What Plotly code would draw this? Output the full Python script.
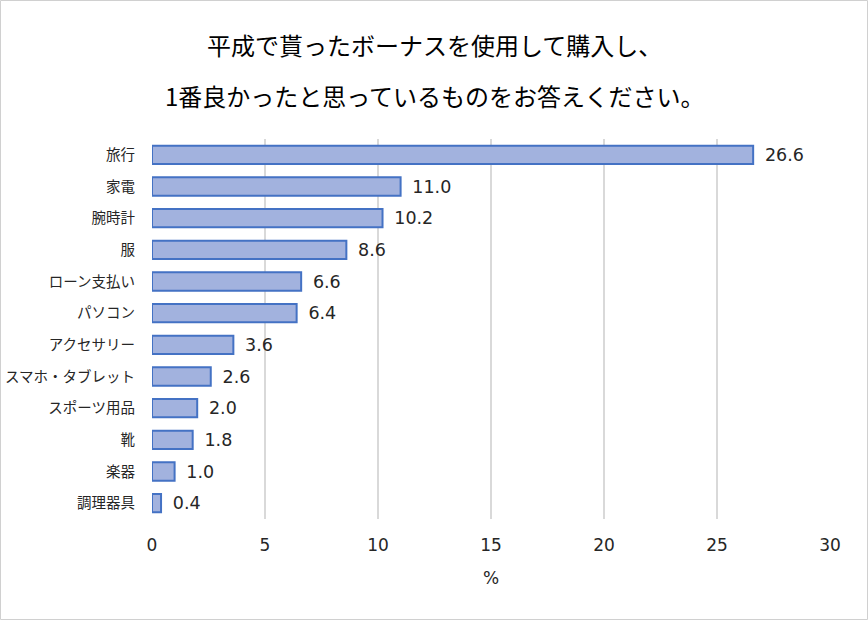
import plotly.graph_objects as go

categories = ["旅行", "家電", "腕時計", "服", "ローン支払い", "パソコン", "アクセサリー",
              "スマホ・タブレット", "スポーツ用品", "靴", "楽器", "調理器具"]
values = [26.6, 11.0, 10.2, 8.6, 6.6, 6.4, 3.6, 2.6, 2.0, 1.8, 1.0, 0.4]
tick_vals = [0, 5, 10, 15, 20, 25, 30]
title_lines = ["平成で貰ったボーナスを使用して購入し、", "1番良かったと思っているものをお答えください。"]

FONT = "DejaVu Sans, Noto Sans CJK JP, sans-serif"
CJK = "Noto Sans CJK JP, sans-serif"
W, H = 868, 620
L, R, T, B = 152, 38, 139, 101
pw, ph = W - L - R, H - T - B

def px_x(p):
    return (p - L) / pw

def px_y(p):
    return (H - B - p) / ph

fig = go.Figure(go.Bar(
    y=categories, x=values, orientation="h",
    marker=dict(color="#A2B2DE", line=dict(color="#4472C4", width=2)),
    text=[f"\u2002{v:.1f}" for v in values], textposition="outside",
    constraintext="none",
    textfont=dict(size=17.5, color="#262626", family=FONT),
    cliponaxis=False,
))

fig.update_layout(
    width=W, height=H,
    margin=dict(l=L, r=R, t=T, b=B, autoexpand=False),
    paper_bgcolor="white", plot_bgcolor="white",
    bargap=0.42,
    showlegend=False,
    font=dict(family=FONT, color="#262626"),
    xaxis=dict(range=[0, 30], tickvals=tick_vals, showgrid=True, automargin=False,
               gridcolor="#D9D9D9", gridwidth=2, zeroline=False,
               tickfont=dict(size=17), ticks="", ticklabelstandoff=14,
               title=dict(text="%", font=dict(size=17), standoff=18)),
    yaxis=dict(autorange="reversed", tickfont=dict(size=14.5, family=CJK), ticks="",
               automargin=False, ticklabelstandoff=16, showgrid=False, zeroline=False),
)

for i, line in enumerate(title_lines):
    fig.add_annotation(text=line, x=px_x(W / 2), xref="paper", xanchor="center",
                       y=px_y(45 + 50 * i), yref="paper", yanchor="middle",
                       showarrow=False,
                       font=dict(size=24, color="#000000", family=CJK))

fig.add_shape(type="rect", xref="paper", yref="paper",
              x0=px_x(0.5), x1=px_x(W - 0.5), y0=px_y(H - 0.5), y1=px_y(0.5),
              line=dict(color="#D0D0D0", width=1))

fig.write_html("out.html", config={"displayModeBar": False},
               post_script="document.body.style.margin='0';")
